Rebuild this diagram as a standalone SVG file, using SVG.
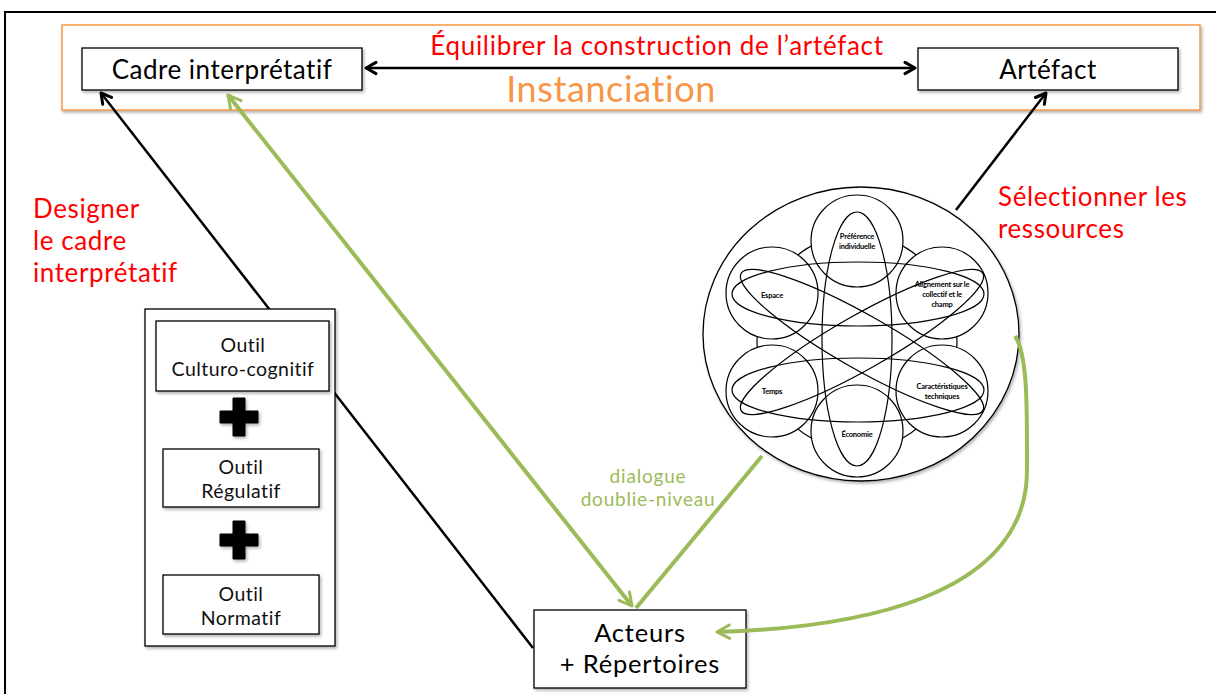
<svg xmlns="http://www.w3.org/2000/svg" width="1216" height="694" viewBox="0 0 1216 694">
<style>
text{font-family:Lato,"Open Sans","Noto Sans",sans-serif;font-variant-ligatures:none;}
.box{fill:#fff;stroke:#000;stroke-width:1.3;}
.lbl{font-size:26px;fill:#000;text-anchor:middle;letter-spacing:0.5px;}
.act{font-size:25.5px;fill:#000;text-anchor:middle;letter-spacing:0.8px;}
.tool{font-size:19.5px;fill:#111;text-anchor:middle;letter-spacing:0.45px;}
.red{font-size:26px;fill:#ff0000;letter-spacing:0.6px;}
.sm{font-size:7.5px;font-weight:bold;fill:#000;text-anchor:middle;letter-spacing:-0.2px;}
.ring{fill:#fff;stroke:#000;stroke-width:1.2;}
.ov{fill:none;stroke:#000;stroke-width:1.2;}
.blk{stroke:#000;stroke-width:2.5;fill:none;}
.grn{stroke:#9bbb59;stroke-width:4;fill:none;}
</style>
<defs>
<filter id="sh" x="-10%" y="-10%" width="130%" height="140%">
<feDropShadow dx="1.5" dy="2" stdDeviation="1.5" flood-color="#000" flood-opacity="0.3"/>
</filter>
<marker id="ab" viewBox="0 0 12 12" refX="10" refY="6" markerWidth="6" markerHeight="6" orient="auto-start-reverse" markerUnits="strokeWidth">
<path d="M2,1.5 L10,6 L2,10.5" fill="none" stroke="#000" stroke-width="2.4" stroke-linecap="round" stroke-linejoin="round"/>
</marker>
<marker id="ag" viewBox="0 0 12 12" refX="10" refY="6" markerWidth="5" markerHeight="5" orient="auto-start-reverse" markerUnits="strokeWidth">
<path d="M2.5,2 L10,6 L2.5,10" fill="none" stroke="#9bbb59" stroke-width="1.8" stroke-linecap="round" stroke-linejoin="round"/>
</marker>
</defs>
<rect x="0" y="0" width="1216" height="694" fill="#fff"/>
<rect x="5" y="12" width="1222" height="700" fill="none" stroke="#000" stroke-width="2"/>
<rect id="instanciation-frame" x="62" y="25" width="1138" height="85" fill="#fff" stroke="#f79646" stroke-width="1.5" filter="url(#sh)"/>

<g id="cadre">
<rect class="box" x="82" y="48" width="280" height="42" filter="url(#sh)"/>
<text class="lbl" x="222" y="79">Cadre interprétatif</text>
</g>
<g id="artefact">
<rect class="box" x="918" y="48" width="260" height="42" filter="url(#sh)"/>
<text class="lbl" x="1048" y="79">Artéfact</text>
</g>
<g id="titles">
<text x="657" y="55" font-size="26" fill="#ff0000" text-anchor="middle" letter-spacing="0.7">Équilibrer la construction de l’artéfact</text>
<text x="611" y="102" font-size="36" fill="#f79646" text-anchor="middle" letter-spacing="0.6">Instanciation</text>
</g>
<g id="designer">
<text class="red" x="33" y="218">Designer</text>
<text class="red" x="33" y="250">le cadre</text>
<text class="red" x="33" y="282">interprétatif</text>
</g>
<g id="selectionner">
<text class="red" x="998" y="206">Sélectionner les</text>
<text class="red" x="998" y="238">ressources</text>
</g>

<g id="acteurs">
<rect class="box" x="534" y="610" width="212" height="78" filter="url(#sh)"/>
<text class="act" x="640" y="642">Acteurs</text>
<text class="act" x="640" y="673">+ Répertoires</text>
</g>
<g id="dialogue">
<text x="648" y="483" font-size="19" fill="#9bbb59" text-anchor="middle" letter-spacing="0.8">dialogue</text>
<text x="648" y="506" font-size="19" fill="#9bbb59" text-anchor="middle" letter-spacing="0.8">doublie-niveau</text>
</g>

<g id="ressources">
<ellipse cx="861" cy="334" rx="158" ry="147" fill="#fff" stroke="#000" stroke-width="1.3" filter="url(#sh)"/>
<ellipse class="ov" cx="857" cy="342" rx="100" ry="108"/>
<circle class="ring" cx="857" cy="241" r="46"/>
<circle class="ring" cx="772" cy="293" r="46"/>
<circle class="ring" cx="942" cy="293" r="46"/>
<circle class="ring" cx="772" cy="391" r="46"/>
<circle class="ring" cx="942" cy="391" r="46"/>
<circle class="ring" cx="857" cy="431" r="46"/>
<ellipse class="ov" cx="857" cy="339" rx="35" ry="127"/>
<ellipse class="ov" cx="858" cy="294" rx="126" ry="32"/>
<ellipse class="ov" cx="858" cy="390" rx="126" ry="32"/>
<ellipse class="ov" cx="862" cy="342" rx="139" ry="27" transform="rotate(29.6 862 342)"/>
<ellipse class="ov" cx="862" cy="342" rx="139" ry="27" transform="rotate(-29.6 862 342)"/>
<text class="sm" x="857" y="239">Préférence</text>
<text class="sm" x="857" y="249">individuelle</text>
<text class="sm" x="772" y="298">Espace</text>
<text class="sm" x="942" y="287">Alignement sur le</text>
<text class="sm" x="942" y="297">collectif et le</text>
<text class="sm" x="942" y="307">champ</text>
<text class="sm" x="772" y="394">Temps</text>
<text class="sm" x="942" y="389">Caractéristiques</text>
<text class="sm" x="942" y="399">techniques</text>
<text class="sm" x="857" y="437">Économie</text>
</g>

<g id="connectors">
<line class="blk" x1="533" y1="648" x2="101" y2="93" marker-end="url(#ab)"/>
<line class="blk" x1="956" y1="210" x2="1046" y2="93" marker-end="url(#ab)"/>
<line class="blk" x1="366" y1="68" x2="915" y2="68" stroke-width="3" marker-start="url(#ab)" marker-end="url(#ab)"/>
<line class="grn" x1="228" y1="95" x2="632" y2="606" marker-start="url(#ag)" marker-end="url(#ag)"/>
<line class="grn" x1="762" y1="456" x2="636" y2="608"/>
<path class="grn" d="M1015,336 C1028,355 1027,410 1027,470 C1027,600 850,628 717,632" marker-end="url(#ag)"/>
</g>

<g id="outils">
<rect class="box" x="145" y="309" width="190" height="337" filter="url(#sh)"/>
<g id="outil-culturo">
<rect class="box" x="156" y="321" width="173" height="70" filter="url(#sh)"/>
<text class="tool" x="243" y="352">Outil</text>
<text class="tool" x="243" y="376">Culturo-cognitif</text>
</g>
<path d="M233,398 h12 v13 h13 v12 h-13 v13 h-12 v-13 h-13 v-12 h13 z" fill="#000" stroke="#000" stroke-width="1" stroke-linejoin="round" filter="url(#sh)"/>
<g id="outil-regulatif">
<rect class="box" x="163" y="449" width="156" height="58" filter="url(#sh)"/>
<text class="tool" x="241" y="474">Outil</text>
<text class="tool" x="241" y="498">Régulatif</text>
</g>
<path d="M233,521 h12 v13 h13 v12 h-13 v13 h-12 v-13 h-13 v-12 h13 z" fill="#000" stroke="#000" stroke-width="1" stroke-linejoin="round" filter="url(#sh)"/>
<g id="outil-normatif">
<rect class="box" x="163" y="575" width="156" height="59" filter="url(#sh)"/>
<text class="tool" x="241" y="601">Outil</text>
<text class="tool" x="241" y="625">Normatif</text>
</g>
</g>
</svg>
